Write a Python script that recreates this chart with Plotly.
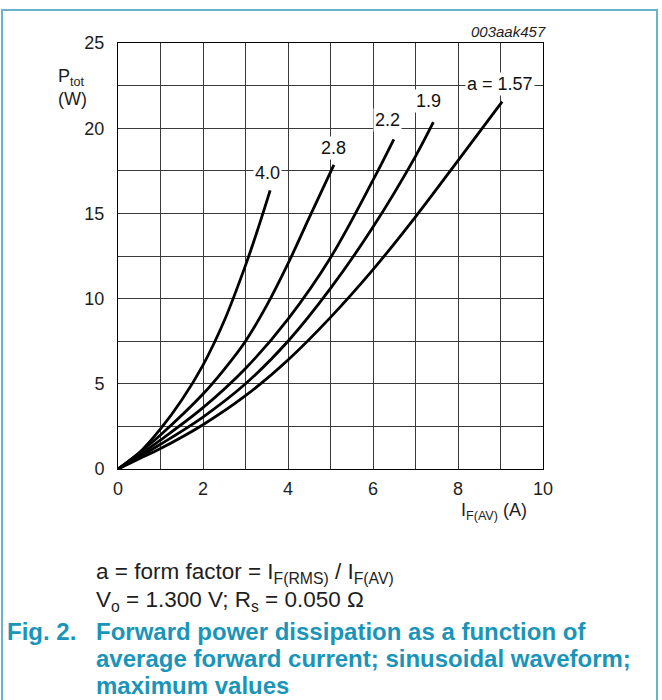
import plotly.graph_objects as go

# ---- data ----
form_factors = ["1.57", "1.9", "2.2", "2.8", "4.0"]
i_157 = [0, 0.5, 1, 2, 3, 4, 5, 6, 7, 8, 9.04]
p_157 = [0, 0.6, 1.2, 2.6, 4.3, 6.4, 8.9, 11.7, 14.8, 18.1, 21.56]
i_19 = [0, 0.5, 1, 2, 3, 4, 5, 6, 7, 7.42]
p_19 = [0, 0.7, 1.45, 3.05, 5.0, 7.5, 10.6, 14.2, 18.35, 20.35]
i_22 = [0, 0.5, 1, 2, 3, 4, 5, 6, 6.49]
p_22 = [0, 0.8, 1.7, 3.6, 5.9, 8.8, 12.4, 16.95, 19.35]
i_28 = [0, 0.5, 1, 2, 2.5, 3, 3.5, 4, 4.5, 5.08]
p_28 = [0, 0.95, 2.0, 4.4, 5.85, 7.5, 9.6, 12.05, 14.75, 17.85]
i_40 = [0, 0.5, 1, 1.5, 2, 2.5, 3, 3.3, 3.58]
p_40 = [0, 0.95, 2.35, 4.05, 6.1, 8.7, 11.95, 14.15, 16.35]

curve_labels = ["a = 1.57", "1.9", "2.2", "2.8", "4.0"]
label_x = [8.98, 7.31, 6.33, 5.08, 3.52]
label_y = [22.6, 21.6, 20.47, 18.83, 17.4]

x_ticks = [0, 2, 4, 6, 8, 10]
y_ticks = [0, 5, 10, 15, 20, 25]

# ---- layout geometry (pixels) ----
W, H = 662, 700
L, R, T, B = 118, 543, 43, 469
PW, PH = R - L, B - T


def px(x):
    return (x - L) / PW


def py(y):
    return (B - y) / PH


FONT = "Liberation Sans, Arial, sans-serif"
TEAL = "#1a95b9"
INK = "#1e1e1e"

fig = go.Figure()
series = [(i_157, p_157), (i_19, p_19), (i_22, p_22), (i_28, p_28), (i_40, p_40)]
for (xs, ys), name in zip(series, form_factors):
    fig.add_trace(go.Scatter(x=xs, y=ys, mode="lines", name=name,
                             line=dict(color="black", width=2.8, shape="spline", smoothing=1.0),
                             showlegend=False, hoverinfo="skip"))

grid_col = "#3a3a3a"
fig.update_xaxes(range=[0, 10], tickvals=x_ticks, showgrid=True, gridcolor=grid_col, gridwidth=1,
                 minor=dict(dtick=1, showgrid=True, gridcolor=grid_col, gridwidth=1),
                 showline=True, linecolor="black", linewidth=1, mirror=True, zeroline=False,
                 ticks="outside", ticklen=3, tickcolor="rgba(0,0,0,0)",
                 tickfont=dict(family=FONT, size=18, color=INK), fixedrange=True)
fig.update_yaxes(range=[0, 25], tickvals=y_ticks, showgrid=True, gridcolor=grid_col, gridwidth=1,
                 minor=dict(dtick=2.5, showgrid=True, gridcolor=grid_col, gridwidth=1),
                 showline=True, linecolor="black", linewidth=1, mirror=True, zeroline=False,
                 ticks="outside", ticklen=9, tickcolor="rgba(0,0,0,0)",
                 tickfont=dict(family=FONT, size=18, color=INK), fixedrange=True)

ann = []
for t, x, y in zip(curve_labels, label_x, label_y):
    ann.append(dict(x=x, y=y, xref="x", yref="y", text=t, showarrow=False,
                    font=dict(family=FONT, size=18, color="#111"), bgcolor="white",
                    borderpad=1))

ann.append(dict(x=px(548), y=py(32), xref="paper", yref="paper", text="<i>003aak457</i>",
                showarrow=False, xanchor="right", yanchor="middle",
                font=dict(family=FONT, size=15, color=INK)))
ann.append(dict(x=px(56), y=py(88), xref="paper", yref="paper",
                text="P<sub>tot</sub><br>(W)", showarrow=False, xanchor="left", yanchor="middle",
                align="left", font=dict(family=FONT, size=18, color=INK)))
ann.append(dict(x=px(459), y=py(511), xref="paper", yref="paper",
                text="I<sub>F(AV)</sub> (A)", showarrow=False, xanchor="left", yanchor="middle",
                font=dict(family=FONT, size=18, color=INK)))

cap_font = dict(family=FONT, size=22.5, color=INK)
ann.append(dict(x=px(94), y=py(573), xref="paper", yref="paper",
                text="a = form factor = I<sub>F(RMS)</sub> / I<sub>F(AV)</sub>", showarrow=False,
                xanchor="left", yanchor="middle", font=cap_font))
ann.append(dict(x=px(94), y=py(601), xref="paper", yref="paper",
                text="V<sub>o</sub> = 1.300 V; R<sub>s</sub> = 0.050 Ω", showarrow=False,
                xanchor="left", yanchor="middle", font=cap_font))
tfont = dict(family=FONT, size=24, color=TEAL)
ann.append(dict(x=px(5), y=py(631), xref="paper", yref="paper", text="<b>Fig. 2.</b>",
                showarrow=False, xanchor="left", yanchor="middle", font=tfont))
title_lines = ["Forward power dissipation as a function of",
               "average forward current; sinusoidal waveform;",
               "maximum values"]
for k, line in enumerate(title_lines):
    ann.append(dict(x=px(94), y=py(631 + 27 * k), xref="paper", yref="paper",
                    text="<b>" + line + "</b>", showarrow=False, xanchor="left",
                    yanchor="middle", font=tfont))

shapes = [dict(type="rect", xref="paper", yref="paper", x0=px(2), x1=px(657), y0=py(712), y1=py(10),
               line=dict(color="#6ab3cc", width=2), fillcolor="rgba(0,0,0,0)", layer="below")]

fig.update_layout(width=W, height=H, margin=dict(l=L, r=W - R, t=T, b=H - B),
                  paper_bgcolor="white", plot_bgcolor="white", annotations=ann, shapes=shapes,
                  showlegend=False)

fig.write_html("out.html", config={"displayModeBar": False},
               post_script="document.body.style.margin='0';document.body.style.overflow='hidden';")
